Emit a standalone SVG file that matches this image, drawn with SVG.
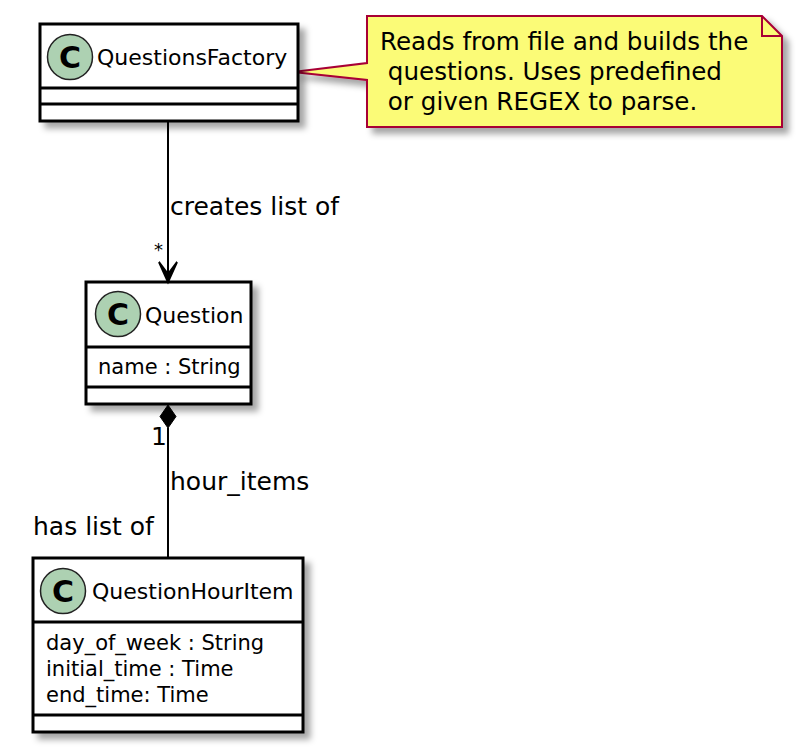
<svg xmlns="http://www.w3.org/2000/svg" width="810" height="751" viewBox="0 0 810 751">
<defs>
<filter id="sh" x="-10%" y="-10%" width="130%" height="130%">
<feGaussianBlur in="SourceAlpha" stdDeviation="3"/>
<feOffset dx="6" dy="6" result="b"/>
<feFlood flood-color="#000" flood-opacity="0.35"/>
<feComposite in2="b" operator="in" result="s"/>
<feMerge><feMergeNode in="s"/><feMergeNode in="SourceGraphic"/></feMerge>
</filter>
</defs>
<style>
.box{fill:#fff;stroke:#000;stroke-width:3}
.sep{stroke:#000;stroke-width:3}
.circ{fill:#ADD1B2;stroke:#222;stroke-width:1.5}
.cl{font-family:"DejaVu Sans",sans-serif;font-size:30px;font-weight:bold;fill:#000;text-anchor:middle}
.name{font-family:"DejaVu Sans",sans-serif;font-size:22px;fill:#000}
.attr{font-family:"DejaVu Sans",sans-serif;font-size:21px;fill:#000}
.lbl{font-family:"DejaVu Sans",sans-serif;font-size:25px;fill:#000}
.note{font-family:"DejaVu Sans",sans-serif;font-size:24.6px;fill:#000}
.edge{stroke:#000;stroke-width:2;fill:none}
</style>
<g id="note">
<path d="M367,16 L762,16 L782,36 L782,127 L367,127 L367,80 L293,72 L367,63 Z" fill="#FBFB77" stroke="#A80036" stroke-width="2" filter="url(#sh)"/>
<path d="M762,16 L762,36 L782,36" fill="none" stroke="#A80036" stroke-width="2"/>
<text class="note" x="380" y="50">Reads from file and builds the</text>
<text class="note" x="380" y="80" xml:space="preserve"> questions. Uses predefined</text>
<text class="note" x="380" y="110" xml:space="preserve"> or given REGEX to parse.</text>
</g>
<g id="QuestionsFactory">
<rect class="box" x="40" y="24" width="258" height="97" filter="url(#sh)"/>
<line class="sep" x1="40" y1="88" x2="298" y2="88"/>
<line class="sep" x1="40" y1="104" x2="298" y2="104"/>
<circle class="circ" cx="70" cy="57" r="22.5"/>
<text class="cl" x="70" y="68">C</text>
<text class="name" x="97" y="65">QuestionsFactory</text>
</g>
<g id="Question">
<rect class="box" x="86" y="282" width="165" height="122" filter="url(#sh)"/>
<line class="sep" x1="86" y1="347" x2="251" y2="347"/>
<line class="sep" x1="86" y1="387" x2="251" y2="387"/>
<circle class="circ" cx="118" cy="314" r="22.5"/>
<text class="cl" x="118" y="325">C</text>
<text class="name" x="145" y="323">Question</text>
<text class="attr" x="98" y="374">name : String</text>
</g>
<g id="QuestionHourItem">
<rect class="box" x="33" y="558" width="270" height="174" filter="url(#sh)"/>
<line class="sep" x1="33" y1="622" x2="303" y2="622"/>
<line class="sep" x1="33" y1="715" x2="303" y2="715"/>
<circle class="circ" cx="63" cy="591" r="22.5"/>
<text class="cl" x="63" y="602">C</text>
<text class="name" x="92" y="599">QuestionHourItem</text>
<text class="attr" x="46" y="650">day_of_week : String</text>
<text class="attr" x="46" y="676">initial_time : Time</text>
<text class="attr" x="46" y="702">end_time: Time</text>
</g>
<g id="connectors">
<line class="edge" x1="168" y1="121" x2="168" y2="280"/>
<polygon points="168,282 159,262 168,274 177,262" fill="#000" stroke="#000" stroke-width="2" stroke-linejoin="miter"/>
<text class="lbl" x="170" y="215">creates list of</text>
<text class="lbl" x="154" y="256" style="font-size:18px">*</text>
<line class="edge" x1="168" y1="428" x2="168" y2="557"/>
<polygon points="168,405 160,416.5 168,428 176,416.5" fill="#000" stroke="#000" stroke-width="1"/>
<text class="lbl" x="151" y="445">1</text>
<text class="lbl" x="170" y="490">hour_items</text>
<text class="lbl" x="33" y="535">has list of</text>
</g>
</svg>
